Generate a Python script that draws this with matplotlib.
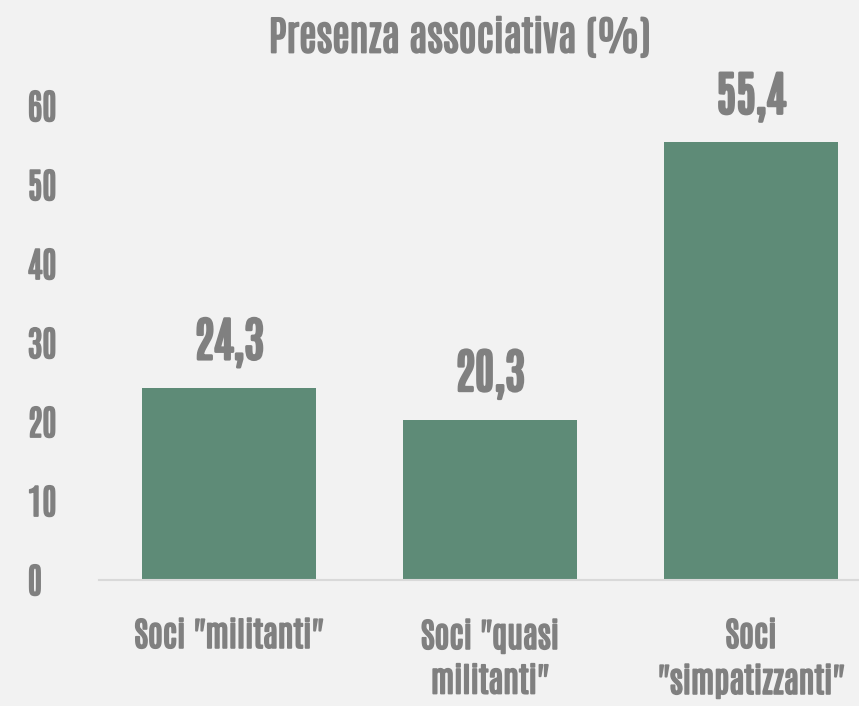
import matplotlib
matplotlib.use("Agg")
import matplotlib.pyplot as plt
import matplotlib.patheffects as pe

categories = ['Soci "militanti"', 'Soci "quasi\nmilitanti"', 'Soci\n"simpatizzanti"']
values = [24.3, 20.3, 55.4]
value_labels = ["24,3", "20,3", "55,4"]
yticks = [0, 10, 20, 30, 40, 50, 60]

bg = "#F2F2F2"
bar_color = "#5E8B77"
text_color = "#808080"

plt.rcParams["font.family"] = ["Antonio", "DejaVu Sans"]

# fake a bold weight: condensed font only has regular
bold = [pe.withStroke(linewidth=1.3, foreground=text_color)]
bold_big = [pe.withStroke(linewidth=2.0, foreground=text_color)]

W, H = 859, 706
fig = plt.figure(figsize=(W / 100, H / 100), dpi=100, facecolor=bg)
left, right, bottom, top = 98.5, 881.5, 580, 106
ax = fig.add_axes([left / W, 1 - bottom / H, (right - left) / W, (bottom - top) / H])
ax.set_facecolor(bg)

x = range(len(values))
ax.bar(x, values, width=0.667, color=bar_color)
ax.set_xlim(-0.5, 2.5)
ax.set_ylim(0, 60)

for s in ["top", "right", "left"]:
    ax.spines[s].set_visible(False)
ax.spines["bottom"].set_color("#D9D9D9")
ax.spines["bottom"].set_linewidth(1.5)

ax.set_yticks(yticks)
ax.set_yticklabels([str(t) for t in yticks], fontsize=25, color=text_color,
                   ha="left", path_effects=bold)
ax.tick_params(axis="y", length=0, pad=51)

ax.set_xticks(list(x))
ax.set_xticklabels(categories, fontsize=24, color=text_color,
                   linespacing=1.4, va="top", path_effects=bold)
ax.tick_params(axis="x", length=0, pad=28)

for i, (v, lab) in enumerate(zip(values, value_labels)):
    ax.annotate(lab, (i, v), xytext=(0, 15), textcoords="offset points",
                ha="center", va="bottom", fontsize=34, color=text_color,
                path_effects=bold_big)

fig.text(460 / W, 1 - 37 / H, "Presenza associativa (%)", ha="center", va="center",
         fontsize=29, color=text_color, path_effects=bold)

fig.savefig("out.png", dpi=100, facecolor=bg)
